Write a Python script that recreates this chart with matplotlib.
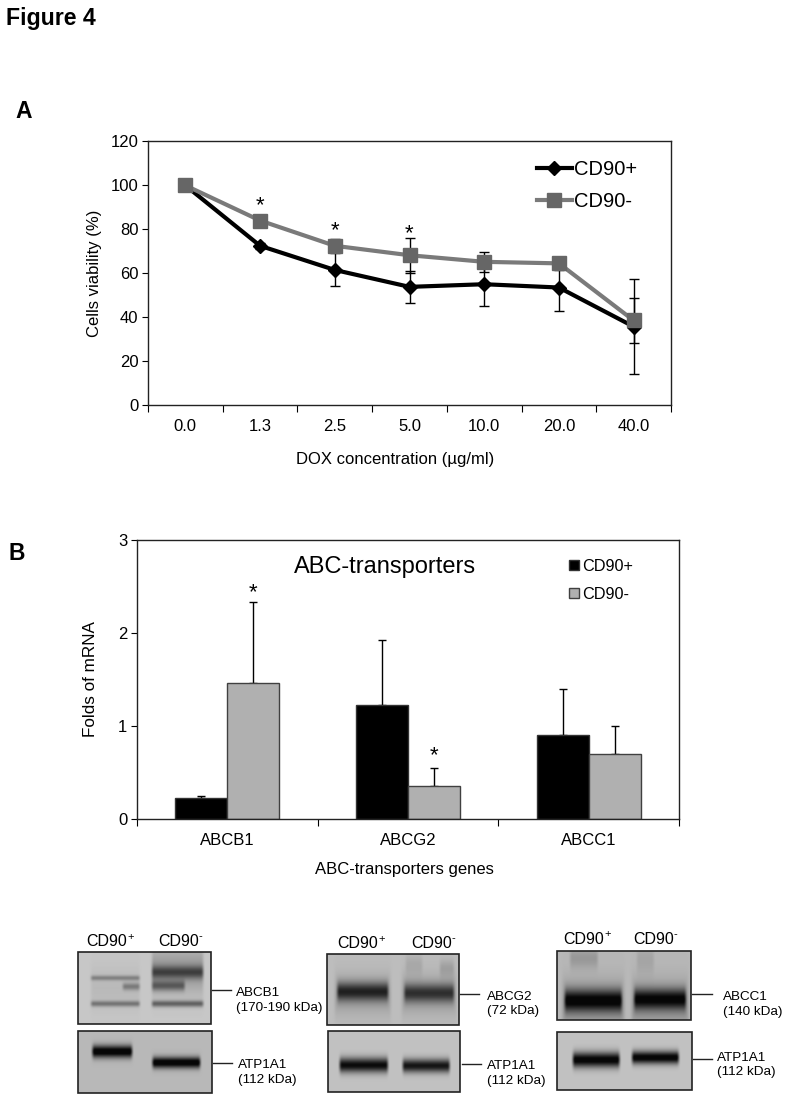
import numpy as np
import matplotlib
matplotlib.use("Agg")
import matplotlib.pyplot as plt
from matplotlib.lines import Line2D
from matplotlib.patches import Rectangle

W, H = 789, 1102
plt.rcParams["font.family"] = ["Liberation Sans", "DejaVu Sans"]

# panel A
doses = ["0.0", "1.3", "2.5", "5.0", "10.0", "20.0", "40.0"]
viab_pos = [100, 72.5, 61.5, 53.8, 55, 53.5, 35.7]
viab_pos_err = [2, 1.5, 7.5, 7.4, 10, 10.9, 21.7]
viab_neg = [100, 84, 72.5, 68.2, 65.2, 64.5, 38.5]
viab_neg_err = [1, 1, 3, 8, 4.6, 3, 10.3]
viab_star_x = [1, 2, 3]
viab_star_y = [86, 74.5, 73.3]

# panel B
genes = ["ABCB1", "ABCG2", "ABCC1"]
mrna_pos = [0.23, 1.23, 0.90]
mrna_pos_err = [0.015, 0.69, 0.50]
mrna_neg = [1.46, 0.36, 0.70]
mrna_neg_err = [0.87, 0.19, 0.30]
mrna_star_x = [0, 1]
mrna_star_y = [2.32, 0.57]

# blots: (x0, x1, y, sigma, strength) as fractions of each blot
abcb1_bands = [(0.08, 0.48, 0.36, 0.035, 0.24), (0.32, 0.48, 0.48, 0.05, 0.25),
               (0.08, 0.48, 0.72, 0.04, 0.30), (0.54, 0.96, 0.28, 0.09, 0.36),
               (0.54, 0.82, 0.47, 0.07, 0.32), (0.54, 0.96, 0.72, 0.045, 0.38),
               (0.54, 0.96, 0.25, 0.32, 0.18), (0.08, 0.48, 0.5, 0.3, 0.05)]
abcg2_bands = [(0.06, 0.48, 0.53, 0.13, 0.50), (0.57, 0.98, 0.55, 0.13, 0.44),
               (0.04, 0.50, 0.58, 0.28, 0.12), (0.55, 1.0, 0.58, 0.28, 0.12),
               (0.58, 0.74, 0.15, 0.15, 0.07), (0.84, 0.98, 0.2, 0.12, 0.10)]
abcc1_bands = [(0.04, 0.50, 0.72, 0.16, 0.62), (0.56, 0.98, 0.70, 0.15, 0.60),
               (0.02, 0.52, 0.78, 0.35, 0.14), (0.54, 1.0, 0.78, 0.35, 0.14),
               (0.08, 0.32, 0.1, 0.15, 0.12), (0.58, 0.74, 0.12, 0.2, 0.07)]
atp_b1_bands = [(0.09, 0.42, 0.33, 0.10, 0.78), (0.54, 0.93, 0.51, 0.09, 0.78)]
atp_g2_bands = [(0.07, 0.47, 0.56, 0.12, 0.72), (0.55, 0.94, 0.57, 0.11, 0.68)]
atp_c1_bands = [(0.10, 0.48, 0.48, 0.13, 0.78), (0.54, 0.92, 0.44, 0.11, 0.78)]

# box x0, y0, x1, y1 in px, background grey, bands
blots = [
    (78, 952, 211, 1024, 0.78, abcb1_bands),
    (78, 1031, 212, 1093, 0.72, atp_b1_bands),
    (327, 954, 459, 1025, 0.74, abcg2_bands),
    (328, 1031, 460, 1092, 0.76, atp_g2_bands),
    (557, 951, 691, 1020, 0.72, abcc1_bands),
    (557, 1032, 692, 1090, 0.76, atp_c1_bands),
]
# text x, y, label / marker line x0, x1, y
blot_labels = [
    (236, 1000.5, "ABCB1\n(170-190 kDa)", 212, 231, 990),
    (238, 1072.5, "ATP1A1\n(112 kDa)", 213, 232, 1063),
    (487, 1004, "ABCG2\n(72 kDa)", 460, 479, 994),
    (487, 1073.5, "ATP1A1\n(112 kDa)", 462, 481, 1064),
    (723, 1004.5, "ABCC1\n(140 kDa)", 692, 712, 994),
    (717, 1065, "ATP1A1\n(112 kDa)", 693, 712, 1059),
]
blot_heads = [(86, 942, 158, 941), (337, 944, 411, 943), (563, 939, 633, 939)]


def px_axes(fig, x0, y0, x1, y1):
    return fig.add_axes([x0 / W, 1 - y1 / H, (x1 - x0) / W, (y1 - y0) / H])


def blot_image(x0, y0, x1, y1, grey, bands):
    nx, ny = (x1 - x0) * 2, (y1 - y0) * 2
    xx, yy = np.meshgrid(np.linspace(0, 1, nx), np.linspace(0, 1, ny))
    img = np.full((ny, nx), grey, dtype=float)
    for bx0, bx1, by, sig, amp in bands:
        edge = 0.035
        sx = np.clip((xx - bx0) / edge, 0, 1) * np.clip((bx1 - xx) / edge, 0, 1)
        img -= amp * sx * sx * (3 - 2 * sx) * np.exp(-((yy - by) / sig) ** 2)
    return np.clip(img, 0.03, 1)


def head_label(page, x, y, sup):
    page.text(x, y, "CD90", fontsize=11.5, va="center")
    page.text(x + 41, y - 5, sup, fontsize=8, va="center")


fig = plt.figure(figsize=(W / 100, H / 100), dpi=100, facecolor="white")
page = fig.add_axes([0, 0, 1, 1])
page.set_xlim(0, W)
page.set_ylim(H, 0)
page.axis("off")

page.text(6, 18, "Figure 4", fontsize=16.7, fontweight="bold", va="center")
page.text(15, 111, "A", fontsize=16.5, fontweight="bold", va="center")
page.text(8, 553, "B", fontsize=16.5, fontweight="bold", va="center")

# --- A
ax = px_axes(fig, 148, 141.5, 671, 405)
x = np.arange(len(doses))
pos_style = dict(color="black", lw=3, marker="D", ms=7)
neg_style = dict(color="#7a7a7a", mec="#666666", mfc="#666666", lw=3, marker="s", ms=9.5)
ax.errorbar(x, viab_pos, yerr=viab_pos_err, ecolor="black", capsize=3.5, elinewidth=1,
            capthick=1, zorder=3, **pos_style)
ax.errorbar(x, viab_neg, yerr=viab_neg_err, ecolor="black", capsize=3.5, elinewidth=1,
            capthick=1, zorder=4, **neg_style)
for i, sy in zip(viab_star_x, viab_star_y):
    ax.text(x[i], sy, "*", ha="center", va="bottom", fontsize=16)
ax.set_xlim(-0.5, len(doses) - 0.5)
ax.set_ylim(0, 120)
ax.set_yticks(range(0, 121, 20))
ax.set_xticks(np.arange(-0.5, len(doses)))
ax.set_xticklabels([])
ax.set_xticks(x, minor=True)
ax.set_xticklabels(doses, minor=True)
ax.tick_params(axis="x", which="minor", length=0, labelsize=12, pad=10)
ax.tick_params(axis="x", which="major", length=5, direction="out")
ax.tick_params(axis="y", length=4, direction="out", labelsize=12, pad=3)
ax.set_ylabel("Cells viability (%)", fontsize=12, labelpad=6)
ax.set_xlabel("DOX concentration (µg/ml)", fontsize=12, labelpad=13, x=0.473)
ax.legend([Line2D([], [], **pos_style), Line2D([], [], **neg_style)], ["CD90+", "CD90-"],
          loc="upper right", frameon=False, fontsize=14.5, handlelength=1.75, handletextpad=0.1,
          labelspacing=0.65, bbox_to_anchor=(0.97, 0.998))

# --- B
ax2 = px_axes(fig, 137, 540, 679, 819)
x = np.arange(len(genes))
bw = 0.288
err_style = dict(fmt="none", ecolor="black", elinewidth=1, capsize=3, capthick=1, zorder=1)
ax2.errorbar(x - bw / 2, mrna_pos, yerr=[np.zeros(len(genes)), mrna_pos_err], **err_style)
ax2.errorbar(x + bw / 2, mrna_neg, yerr=[np.zeros(len(genes)), mrna_neg_err], **err_style)
ax2.bar(x - bw / 2, mrna_pos, bw, color="black", edgecolor="#333333", lw=1, label="CD90+", zorder=2)
ax2.bar(x + bw / 2, mrna_neg, bw, color="#b0b0b0", edgecolor="#404040", lw=1, label="CD90-", zorder=2)
for i, sy in zip(mrna_star_x, mrna_star_y):
    ax2.text(x[i] + bw / 2, sy, "*", ha="center", va="bottom", fontsize=16)
ax2.set_xlim(-0.5, len(genes) - 0.5)
ax2.set_ylim(0, 3)
ax2.set_yticks([0, 1, 2, 3])
ax2.set_xticks(np.arange(-0.5, len(genes)))
ax2.set_xticklabels([])
ax2.set_xticks(x, minor=True)
ax2.set_xticklabels(genes, minor=True)
ax2.tick_params(axis="x", which="minor", length=0, labelsize=12, pad=10)
ax2.tick_params(axis="x", which="major", length=5, direction="out")
ax2.tick_params(axis="y", length=4, direction="out", labelsize=12, pad=3)
ax2.set_ylabel("Folds of mRNA", fontsize=12.3, labelpad=14)
ax2.set_xlabel("ABC-transporters genes", fontsize=12, labelpad=10, x=0.494)
ax2.text(0.457, 0.902, "ABC-transporters", transform=ax2.transAxes, ha="center", va="center", fontsize=17)
ax2.legend(loc="upper right", frameon=False, fontsize=11.7, handlelength=0.6, handleheight=0.6,
           handletextpad=0.25, labelspacing=0.8, bbox_to_anchor=(0.943, 0.985))

for a in (ax, ax2):
    for s in a.spines.values():
        s.set_linewidth(1)
        s.set_color("#222222")

# --- blots
for bx0, by0, bx1, by1, grey, bands in blots:
    page.imshow(blot_image(bx0, by0, bx1, by1, grey, bands), cmap="gray", vmin=0, vmax=1,
                extent=(bx0, bx1, by1, by0), aspect="auto", interpolation="bilinear", zorder=1)
    page.add_patch(Rectangle((bx0, by0), bx1 - bx0, by1 - by0, fill=False, ec="#222222", lw=1.2, zorder=2))
page.set_xlim(0, W)
page.set_ylim(H, 0)
for tx, ty, label, lx0, lx1, ly in blot_labels:
    page.text(tx, ty, label, fontsize=9.7, va="center", linespacing=1.32)
    page.plot([lx0, lx1], [ly, ly], color="#222222", lw=1)
for px1, py1, px2, py2 in blot_heads:
    head_label(page, px1, py1, "+")
    head_label(page, px2, py2, "-")

fig.savefig("out.png", dpi=100, facecolor="white")
